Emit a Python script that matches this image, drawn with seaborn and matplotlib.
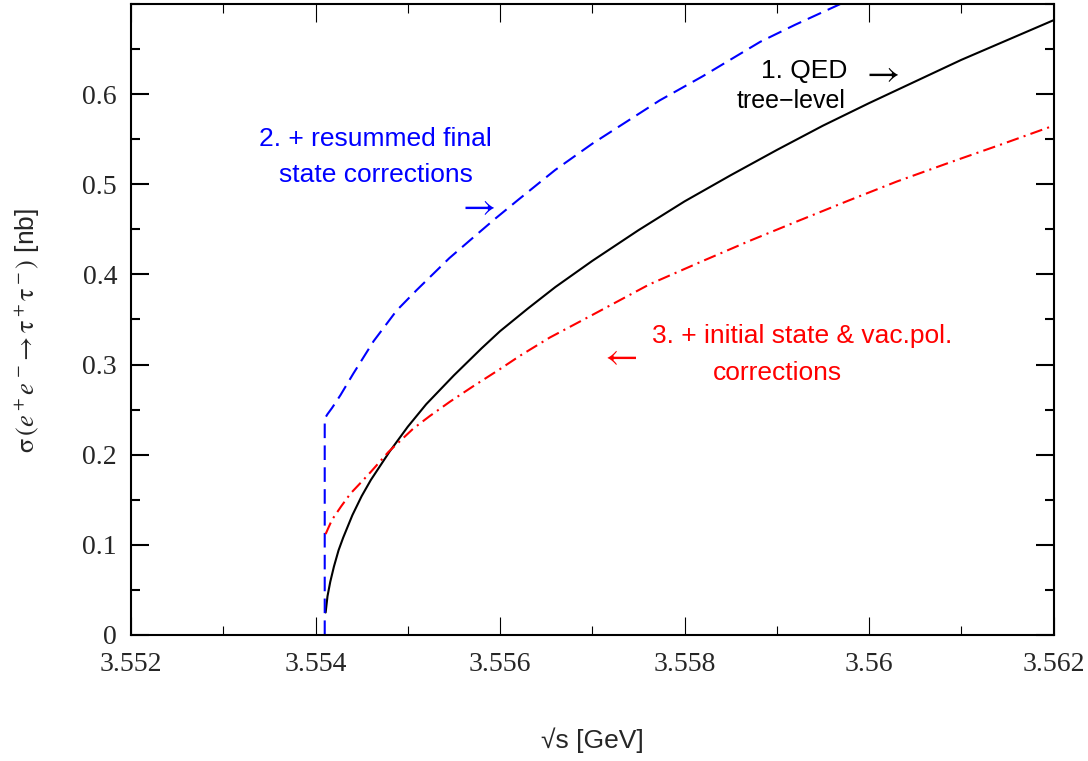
import numpy as np
import pandas as pd
import matplotlib
matplotlib.use('Agg')
import matplotlib.pyplot as plt
from matplotlib.ticker import FixedLocator, MultipleLocator
import seaborn as sns

# sqrt(s) [GeV] and sigma [nb]
tree_x = [3.55411, 3.55413, 3.55416, 3.5542, 3.55425, 3.5543, 3.5544, 3.5545,
          3.5546, 3.5548, 3.5550, 3.5552, 3.5555, 3.5558, 3.5560, 3.5563,
          3.5566, 3.5570, 3.5575, 3.5580, 3.5585, 3.5590, 3.5595, 3.5600,
          3.5605, 3.5610, 3.5615, 3.5620]
tree_y = [0.025, 0.043, 0.059, 0.076, 0.094, 0.108, 0.133, 0.154,
          0.172, 0.203, 0.231, 0.256, 0.288, 0.318, 0.337, 0.362,
          0.386, 0.415, 0.449, 0.481, 0.510, 0.538, 0.565, 0.590,
          0.614, 0.638, 0.660, 0.682]

fsr_x = [3.55410, 3.55410, 3.55413, 3.55418, 3.55427, 3.55441, 3.55463, 3.55488,
         3.5551, 3.55524, 3.55545, 3.55571, 3.55595, 3.5562, 3.5566, 3.5570,
         3.55773, 3.5582, 3.55882, 3.5592, 3.55969, 3.5600]
fsr_y = [0.0, 0.240, 0.245, 0.252, 0.266, 0.290, 0.326, 0.360,
         0.383, 0.397, 0.418, 0.441, 0.462, 0.483, 0.516, 0.545,
         0.593, 0.620, 0.658, 0.677, 0.700, 0.713]

isr_x = [3.55411, 3.55414, 3.55418, 3.55428, 3.55438, 3.5545, 3.5546, 3.55479,
         3.55506, 3.55524, 3.55546, 3.55571, 3.5560, 3.55622, 3.55654, 3.5570,
         3.55762, 3.5582, 3.5587, 3.5592, 3.55978, 3.5603, 3.56087, 3.5614, 3.5620]
isr_y = [0.112, 0.119, 0.128, 0.143, 0.157, 0.170, 0.181, 0.203,
         0.229, 0.243, 0.259, 0.276, 0.295, 0.310, 0.330, 0.355,
         0.389, 0.415, 0.437, 0.458, 0.482, 0.503, 0.524, 0.543, 0.565]

xtick_vals = [3.552, 3.554, 3.556, 3.558, 3.560, 3.562]
xtick_labels = ['3.552', '3.554', '3.556', '3.558', '3.56', '3.562']
ytick_vals = [0.0, 0.1, 0.2, 0.3, 0.4, 0.5, 0.6]
ytick_labels = ['0', '0.1', '0.2', '0.3', '0.4', '0.5', '0.6']

sns.set_theme(style="ticks")
plt.rcParams['font.family'] = ['Liberation Sans', 'DejaVu Sans']
plt.rcParams['mathtext.fontset'] = 'stix'

fig = plt.figure(figsize=(10.88, 7.61), dpi=100)
ax = fig.add_axes([131 / 1088, 1 - 635 / 761, 922.5 / 1088, 631 / 761])

tree = pd.DataFrame({'x': tree_x, 'y': tree_y})
fsr = pd.DataFrame({'x': fsr_x, 'y': fsr_y})
isr = pd.DataFrame({'x': isr_x, 'y': isr_y})

sns.lineplot(data=tree, x='x', y='y', ax=ax, color='black', lw=1.5,
             estimator=None, sort=False)
sns.lineplot(data=fsr, x='x', y='y', ax=ax, color='#0000ff', lw=1.5,
             estimator=None, sort=False, linestyle=(0, (7, 3.5)))
sns.lineplot(data=isr, x='x', y='y', ax=ax, color='#ff0000', lw=1.5,
             estimator=None, sort=False, linestyle=(0, (6, 2.5, 1, 2.5)))

ax.set_xlim(3.552, 3.562)
ax.set_ylim(0, 0.70)

ax.xaxis.set_major_locator(FixedLocator(xtick_vals))
ax.set_xticklabels(xtick_labels)
ax.xaxis.set_minor_locator(MultipleLocator(0.001))
ax.yaxis.set_major_locator(FixedLocator(ytick_vals))
ax.set_yticklabels(ytick_labels)
ax.yaxis.set_minor_locator(MultipleLocator(0.05))

ax.tick_params(which='both', direction='in', top=True, right=True, color='black')
ax.tick_params(axis='x', which='major', length=13, width=0.8, pad=12)
ax.tick_params(axis='x', which='minor', length=6.5, width=0.8)
ax.tick_params(axis='y', which='major', length=13, width=1.5, pad=10)
ax.tick_params(axis='y', which='minor', length=6.5, width=1.5)
for lab in ax.get_xticklabels() + ax.get_yticklabels():
    lab.set_fontfamily('Liberation Serif')
    lab.set_fontsize(20)
for sp in ax.spines.values():
    sp.set_linewidth(1.5)
    sp.set_color('black')

ax.set_xlabel('\u221as [GeV]', fontsize=19)
ax.set_ylabel(r'$\mathrm{\sigma}\,(e^+e^-\!\rightarrow\mathrm{\tau}^+\mathrm{\tau}^-)$ [nb]',
              fontsize=19)
ax.xaxis.set_label_coords(0.4997, -0.147)
ax.yaxis.set_label_coords(-0.096, 0.483)

# curve labels
ax.text(3.55883, 0.618, '1. QED', fontsize=19, color='black', ha='left', va='baseline')
ax.text(3.56012, 0.6244, r'$\rightarrow$', fontsize=26, color='black',
        ha='center', va='center')
ax.text(3.55856, 0.5848, 'tree\u2212level', fontsize=18, color='black', ha='left', va='baseline')

ax.text(3.55465, 0.5423, '2. + resummed final', fontsize=19, color='#0000ff',
        ha='center', va='baseline')
ax.text(3.55465, 0.5024, 'state corrections', fontsize=19, color='#0000ff',
        ha='center', va='baseline')
ax.text(3.55574, 0.4769, r'$\rightarrow$', fontsize=26, color='#0000ff',
        ha='center', va='center')

ax.text(3.55765, 0.3238, '3. + initial state & vac.pol.', fontsize=19, color='#ff0000',
        ha='left', va='baseline')
ax.text(3.55901, 0.2828, 'corrections', fontsize=19, color='#ff0000',
        ha='center', va='baseline')
ax.text(3.55728, 0.3105, r'$\leftarrow$', fontsize=26, color='#ff0000',
        ha='center', va='center')

plt.savefig('out.png', dpi=100)
